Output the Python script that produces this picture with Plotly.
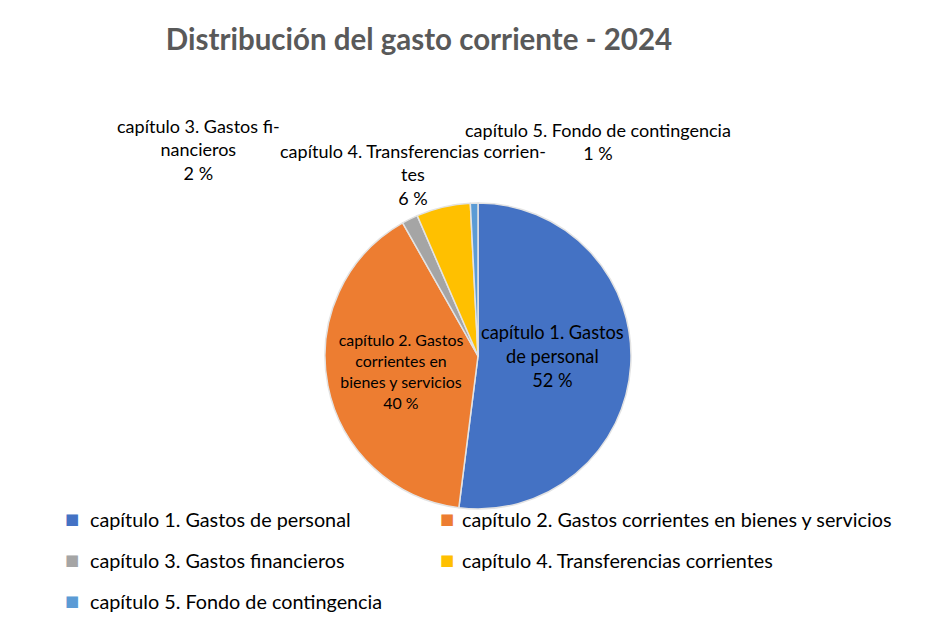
import plotly.graph_objects as go

# ---- data ----
categories = [
    "capítulo 1. Gastos de personal",
    "capítulo 2. Gastos corrientes en bienes y servicios",
    "capítulo 3. Gastos financieros",
    "capítulo 4. Transferencias corrientes",
    "capítulo 5. Fondo de contingencia",
]
values = [52.0, 39.8, 1.7, 5.7, 0.8]
colors = ["#4472C4", "#ED7D31", "#A5A5A5", "#FFC000", "#5B9BD5"]

# wrapped label text as shown on the chart
wrapped_labels = [
    "capítulo 1. Gastos<br>de personal",
    "capítulo 2. Gastos<br>corrientes en<br>bienes y servicios",
    "capítulo 3. Gastos fi-<br>nancieros",
    "capítulo 4. Transferencias corrien-<br>tes",
    "capítulo 5. Fondo de contingencia",
]

total = sum(values)
pct = [f"{round(v / total * 100):.0f} %" for v in values]
inside = [v / total >= 0.1 for v in values]
slice_text = [f"{w}<br>{p}" if ins else "" for w, p, ins in zip(wrapped_labels, pct, inside)]

FONT = "Lato"
W, H = 939, 630
cx, cy, r = 470, 348, 153

fig = go.Figure(
    go.Pie(
        labels=categories,
        values=values,
        text=slice_text,
        texttemplate="%{text}",
        textposition="inside",
        insidetextorientation="horizontal",
        textfont=dict(family=FONT, size=19, color="#000000"),
        marker=dict(colors=colors, line=dict(color="#E3E3E3", width=1.5)),
        sort=False,
        direction="clockwise",
        rotation=0,
        hoverinfo="label+percent",
        showlegend=False,
        domain=dict(x=[(cx - r) / W, (cx + r) / W], y=[(H - cy - r) / H, (H - cy + r) / H]),
    )
)

# outside labels for the small slices (centre x, centre y of text block)
label_pos = {2: (190, 142), 3: (405, 167), 4: (590, 133)}
for i, (x, y) in label_pos.items():
    fig.add_annotation(
        x=x / W, y=1 - y / H, xref="paper", yref="paper",
        text=f"{wrapped_labels[i]}<br>{pct[i]}",
        showarrow=False, xanchor="center", yanchor="middle",
        font=dict(family=FONT, size=18, color="#000000"),
    )

# legend laid out in two columns as in the reference
legend_cols = [(64, 80), (439, 452)]
legend_rows = [511, 552, 593]
for i, (name, col) in enumerate(zip(categories, colors)):
    sx, tx = legend_cols[i % 2]
    ty = legend_rows[i // 2]
    fig.add_annotation(
        x=sx / W, y=1 - ty / H, xref="paper", yref="paper",
        text="■", showarrow=False, xanchor="center", yanchor="middle",
        font=dict(family="DejaVu Sans", size=15, color=col),
    )
    fig.add_annotation(
        x=tx / W, y=1 - ty / H, xref="paper", yref="paper",
        text=name, showarrow=False, xanchor="left", yanchor="middle",
        font=dict(family=FONT, size=19.8, color="#000000"),
    )

fig.update_layout(
    width=W, height=H,
    margin=dict(l=0, r=0, t=0, b=0),
    paper_bgcolor="#FFFFFF",
    showlegend=False,
    title=dict(
        text="<b>Distribución del gasto corriente - 2024</b>",
        x=411 / W, y=1 - 32 / H, xanchor="center", yanchor="middle",
        font=dict(family=FONT, size=29.5, color="#595959"),
    ),
)

fig.write_html("out.html")
